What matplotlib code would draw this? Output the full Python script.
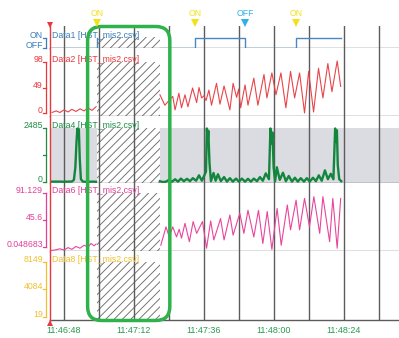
import matplotlib
matplotlib.use("Agg")
import matplotlib.pyplot as plt
import matplotlib.transforms as mtransforms
from matplotlib.patches import Rectangle, FancyBboxPatch
import numpy as np

plt.rcParams['font.family'] = ['Liberation Sans', 'DejaVu Sans']
plt.rcParams['hatch.linewidth'] = 0.65
plt.rcParams['hatch.color'] = '#6e6e6e'

W, H, DPI = 399, 338, 100

# time axis in seconds after 11:46:48
start_clock = 11 * 3600 + 46 * 60 + 48
view_start, view_end = -4.8, 114.9
cursor_time = -4.8
grid_times = [0, 12, 24, 36, 48, 60, 72, 84, 96, 108]
label_times = [0, 24, 48, 72, 96]
gap_start, gap_end = 11.3, 32.9          # no samples recorded (hatched)
highlight_start, highlight_end = 8.1, 36.3

file_tag = "[HST_mis2.csv]"
nan = np.nan

# Data1: ON/OFF state
d1_t = [-4.8, 11.3, 11.35, 32.9, 44.9, 62.1, 79.5, 95.0]
d1_v = [0, 1, nan, 0, 1, 0, 1, 1]
event_times = [11.3, 44.9, 62.1, 79.5]
event_states = ["ON", "ON", "OFF", "ON"]

# Data2
d2_t = [-4.1, -2.7, -1.4, 0.0, 1.4, 2.7, 4.1, 5.5, 6.9, 8.2, 9.6, 11.0, 11.2,
        32.9, 34.6, 37.3, 38.1, 39.4, 40.3, 41.5, 42.5, 44.1, 45.5, 46.3, 47.2,
        48.0, 48.7, 49.7, 50.6, 52.3, 53.5, 54.9, 56.9, 58.0, 59.2, 59.9, 60.6,
        62.1, 63.1, 65.1, 66.5, 68.6, 69.6, 71.3, 72.7, 74.4, 76.1, 77.7, 79.1,
        80.8, 82.5, 83.9, 85.6, 87.3, 88.8, 90.5, 91.9, 93.7, 94.9]
d2_v = [1, 4, 1, 6, 2, 7, 3, 8, 4, 10, 5, 12, nan,
        35, 15, 32, 6, 38, 10, 35, 12, 48, 20, 49, 29,
        33, 24, 44, 15, 57, 17, 52, 6, 57, 30, 46, 10,
        54, 15, 67, 15, 74, 29, 77, 35, 77, 10, 80, 29,
        77, 0, 80, 2, 86, 29, 95, 41, 100, 51]

# Data4
d4_t = [-4.8, -3.1, -1.4, 0.0, 1.4, 2.7, 3.4, 3.9, 4.3, 4.6, 4.8, 5.1, 5.4,
        5.8, 6.5, 7.9, 9.6, 11.0, 11.2,
        32.9, 33.9, 35.0, 36.0, 37.0, 38.1, 39.1, 40.1, 41.1, 42.2, 43.2, 44.2,
        45.3, 46.3, 47.3, 48.7, 49.0, 49.3, 49.5, 49.9, 50.4, 51.3, 52.0, 52.8,
        53.8, 54.9, 55.9, 56.9, 57.9, 59.0, 60.0, 61.0, 62.1, 63.1, 64.1, 65.1,
        66.2, 67.2, 68.2, 69.2, 70.3, 70.8, 71.2, 71.5, 71.9, 72.4, 73.0, 74.0,
        75.1, 76.1, 77.1, 78.2, 79.2, 80.2, 81.2, 82.3, 83.3, 84.3, 85.4, 86.4,
        87.4, 88.4, 89.5, 90.5, 91.5, 92.4, 93.0, 93.3, 93.6, 93.9, 94.4, 95.1]
d4_v = [40, 40, 40, 35, 40, 45, 120, 700, 1900, 2485, 2100, 2450, 1100,
        150, 40, 30, 40, 35, nan,
        60, 20, 40, 120, 30, 150, 40, 180, 60, 170, 60, 200,
        80, 330, 80, 500, 2485, 1900, 2380, 900, 60, 440, 80, 380,
        60, 250, 40, 200, 40, 180, 40, 180, 40, 170, 40, 180,
        60, 250, 80, 420, 150, 2485, 1800, 2300, 700, 60, 700, 120,
        450, 60, 300, 40, 220, 40, 200, 40, 200, 40, 220, 60,
        330, 80, 560, 150, 400, 150, 2485, 1900, 2400, 800, 150, 60]

# Data6
d6_t = [-4.8, -3.1, -1.4, 0.0, 1.4, 2.7, 4.1, 5.5, 6.9, 8.2, 9.3, 10.3, 11.0, 11.2,
        33.2, 35.0, 36.1, 37.3, 38.6, 39.5, 40.3, 41.5, 43.0, 44.3, 45.5, 47.5,
        48.9, 50.3, 51.4, 53.7, 54.9, 56.9, 58.0, 60.3, 61.7, 63.1, 65.1, 66.7,
        68.2, 69.7, 71.3, 73.1, 74.5, 76.6, 77.7, 79.6, 80.8, 82.5, 84.2, 85.7,
        87.7, 88.8, 91.1, 92.2, 93.7, 94.9]
d6_v = [-6, -5, -3, -5, -1, -4, 1, -2, 3, 0, 6, 2, 5, nan,
        3, 34, 17, 34, 17, 30, 15, 40, 9, 43, 23, 43,
        -2, 44, 12, 48, 12, 54, 20, 57, 23, 62, 17, 62,
        6, 60, -4, 65, 3, 71, 29, 79, 29, 82, 34, 85,
        23, 85, 9, 82, -2, 82]

panel_names = ["Data1", "Data2", "Data4", "Data6", "Data8"]
panel_colors = ["#3a7dbb", "#e8383d", "#1e8c46", "#e0409a", "#f0c030"]
line_colors = ["#4a86c0", "#e8454a", "#13863d", "#e8459d", "#f0c030"]
line_widths = [1.0, 0.8, 1.7, 0.8, 0.8]
panel_series = [(d1_t, d1_v), (d2_t, d2_v), (d4_t, d4_v), (d6_t, d6_v), None]
panel_ticks = [[0, 1], [0, 49, 98], [0, 1242.5, 2485],
               [0.048683, 45.6, 91.129], [19, 4084, 8149]]
panel_ticklabels = [["OFF", "ON"], ["0", "49", "98"], ["0", "", "2485"],
                    ["0.048683", "45.6", "91.129"], ["19", "4084", "8149"]]
panel_ylims = [(0, 2.2), (-4.8, 124.9), (-37, 3083), (-6.7, 107.5), (-471, 9784)]
hatch_tops = [1.1, 98, 2485, 91.129, 8149]
band_top = 2485   # grey band of Data4
panel_edges_px = [26, 48, 115.5, 183.3, 251, 320]

grid_color = "#5c5c5c"
fs = 6.3

fig = plt.figure(figsize=(W / DPI, H / DPI), dpi=DPI)
left_px = 50
axes = []
for i, name in enumerate(panel_names):
    top, bot = panel_edges_px[i], panel_edges_px[i + 1]
    ax = fig.add_axes([left_px / W, 1 - bot / H, (W - left_px) / W, (bot - top) / H])
    ax.set_xlim(view_start, view_end)
    ax.set_ylim(*panel_ylims[i])
    ax.set_xticks([])
    ax.set_yticks([])
    for s in ["top", "left", "right"]:
        ax.spines[s].set_visible(False)
    ax.spines["bottom"].set_color(grid_color)
    ax.spines["bottom"].set_linewidth(1.0)
    ax.spines["bottom"].set_zorder(4)
    c = panel_colors[i]
    ylo = panel_ylims[i][0]

    if name == "Data4":
        ax.axhspan(ylo, band_top, color="#dbdce1", lw=0, zorder=0)

    ax.add_patch(Rectangle((gap_start, ylo), gap_end - gap_start, hatch_tops[i] - ylo,
                           facecolor="white", edgecolor="#6e6e6e", lw=0,
                           hatch="////", zorder=2))
    for gt in grid_times:
        ax.axvline(gt, color=grid_color, lw=1.0, zorder=3)

    series = panel_series[i]
    if series is not None:
        ds = "steps-post" if name == "Data1" else "default"
        ax.plot(series[0], series[1], color=line_colors[i], lw=line_widths[i],
                drawstyle=ds, zorder=5, clip_on=(name != "Data1"))

    # series name inside the panel
    ax.annotate(f"{name} {file_tag}", xy=(0, panel_ticks[i][-1]),
                xycoords=("axes fraction", "data"), xytext=(1.5, 0),
                textcoords="offset pixels", ha="left", va="baseline",
                color=c, fontsize=fs, zorder=6)

    # left scale: labels and bracket
    trans = mtransforms.blended_transform_factory(ax.transAxes, ax.transData)
    tick_tr = trans + mtransforms.ScaledTranslation(-4 / DPI, 0, fig.dpi_scale_trans)
    for tv, tl in zip(panel_ticks[i], panel_ticklabels[i]):
        if tl:
            ax.annotate(tl, xy=(0, tv), xycoords=trans, xytext=(-7, 0),
                        textcoords="offset pixels", ha="right", va="baseline",
                        color=c, fontsize=fs, annotation_clip=False)
        ax.plot([-3.5 / (W - left_px), 0], [tv, tv], transform=tick_tr,
                color=c, lw=0.9, clip_on=False)
    ax.plot([0, 0], [panel_ticks[i][0], panel_ticks[i][-1]], transform=tick_tr,
            color=c, lw=0.9, clip_on=False)
    axes.append(ax)

# time labels under the bottom panel
bottom = axes[-1]
bottom.set_xticks(label_times)
bottom.set_xticklabels([
    "%d:%02d:%02d" % ((start_clock + t) // 3600, (start_clock + t) % 3600 // 60, (start_clock + t) % 60)
    for t in label_times])
bottom.tick_params(axis="x", length=0, pad=4, labelsize=6.5, labelcolor="#2a9a50")

# overlay in pixel units for cursor, events and highlight box
ov = fig.add_axes([0, 0, 1, 1])
ov.set_xlim(0, W)
ov.set_ylim(H, 0)
ov.axis("off")
ov.patch.set_alpha(0)


def t2px(t):
    return bottom.transData.transform((t, 0))[0]


xc = t2px(cursor_time)
ov.plot([xc, xc], [25, 321], color="#e8383d", lw=1.0)
ov.plot([xc], [24.5], marker="v", color="#e8383d", ms=4.5, mew=0)
ov.plot([xc], [322.5], marker="^", color="#e8383d", ms=4.5, mew=0)

for et, es in zip(event_times, event_states):
    ec = "#f2e21c" if es == "ON" else "#30b0e8"
    xe = t2px(et)
    ov.text(xe, 14, es, color=ec, fontsize=fs, ha="center", va="center")
    ov.plot([xe], [23], marker="v", color=ec, ms=6, mew=0)

x0, x1 = t2px(highlight_start), t2px(highlight_end)
ov.add_patch(FancyBboxPatch((x0, 26.5), x1 - x0, 294, boxstyle="round,pad=0,rounding_size=14",
                            fill=False, edgecolor="#2fb24c", lw=2.5))

fig.savefig("out.png", dpi=DPI)
